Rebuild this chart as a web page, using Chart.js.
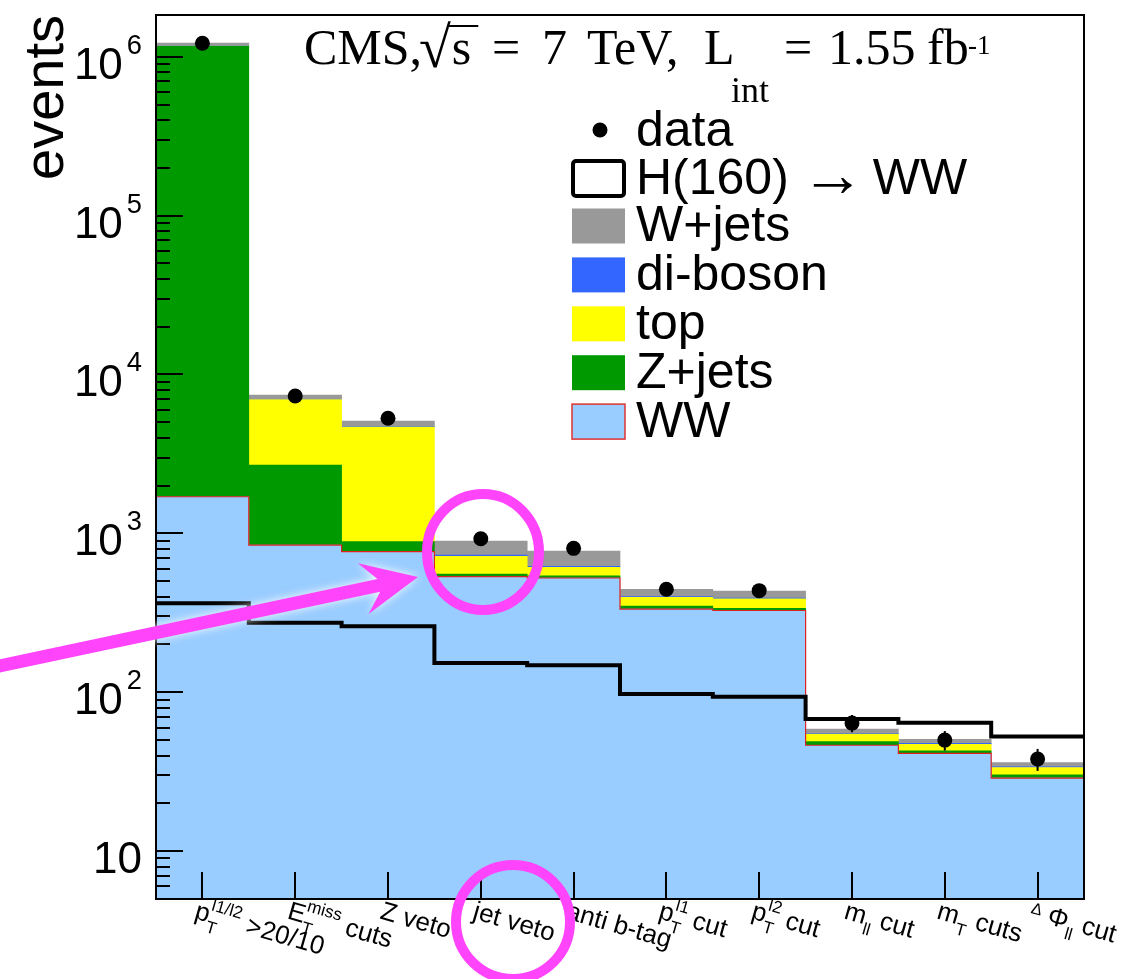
<!DOCTYPE html>
<html>
<head>
<meta charset="utf-8">
<script src="https://cdn.jsdelivr.net/npm/chart.js@4.4.1/dist/chart.umd.min.js"></script>
<style>
  html, body { margin: 0; padding: 0; background: #ffffff; }
  #wrap { position: relative; width: 1146px; height: 979px; }
</style>
</head>
<body>
<div id="wrap"><canvas id="cutflow" width="1146" height="979"></canvas></div>
<script>
// Selection steps (ROOT-like markup: _{sub}, ^{sup})
const categories = [
  'p_{T}^{l1/l2} >20/10', 'E_{T}^{miss} cuts', 'Z veto', 'jet veto', 'anti b-tag',
  'p_{T}^{l1} cut', 'p_{T}^{l2} cut', 'm_{ll} cut', 'm_{T} cuts', 'Δ Φ_{ll} cut'
];

// Expected background yields per selection step (stacked bottom to top)
const wwEvents      = [1700, 843, 767, 534, 524, 334, 327, 46.4, 41.3, 28.8];
const zjetsEvents   = [1160000, 1850, 120, 21, 16, 15, 11, 2.5, 1.5, 1.4];
const topEvents     = [6000, 4250, 3783, 163, 72, 47, 49, 5.6, 4.3, 3.4];
const dibosonEvents = [3000, 40, 30, 13, 8, 4, 4, 0.7, 0.7, 0.3];
const wjetsEvents   = [47000, 450, 396, 165, 154, 44, 42, 3.5, 2.8, 2.2];

// Observed events and their statistical uncertainties
const dataEvents = [1214000, 7320, 5300, 926, 805, 445, 436, 64, 50, 38];
const dataErrors = [1100, 86, 73, 30, 28, 21, 21, 8, 7, 6];

// Signal expectation, H(160) -> WW (drawn unstacked)
const higgsEvents = [363, 274, 260, 153, 148, 97.5, 93.8, 68, 64.4, 52.6];

// Vertical axis
const yTickValues = [10, 100, 1000, 10000, 100000, 1000000];
const yTickLabels = ['10', '10^{2}', '10^{3}', '10^{4}', '10^{5}', '10^{6}'];
const Y_MIN = 5;
const Y_MAX = 1.83e6;

// Header pieces: text, left edge, role
const headerRuns = [
  ['CMS,', 304, 'main'], ['√s', 419, 'root'], ['=', 492, 'main'], ['7', 542, 'main'],
  ['TeV,', 587, 'main'], ['L', 704, 'main'], ['int', 731, 'sub'], ['=', 784, 'main'],
  ['1.55', 828, 'main'], ['fb', 927, 'main'], ['-1', 968, 'sup']
];

const FONT_SANS = '"Liberation Sans", Arial, Helvetica, sans-serif';
const FONT_SERIF = '"Liberation Serif", "Times New Roman", Times, serif';

const layers = [
  { label: 'WW',       values: wwEvents,      color: '#99ccff' },
  { label: 'Z+jets',   values: zjetsEvents,   color: '#009900' },
  { label: 'top',      values: topEvents,     color: '#ffff00' },
  { label: 'di-boson', values: dibosonEvents, color: '#3366ff' },
  { label: 'W+jets',   values: wjetsEvents,   color: '#999999' }
];

// Floating bars [base, top] for each layer of the stack
const cumulative = categories.map(() => 0);
const barDatasets = layers.map(layer => {
  const data = layer.values.map((v, i) => {
    const lo = cumulative[i];
    const hi = lo + v;
    cumulative[i] = hi;
    return [Math.max(lo, Y_MIN), hi];
  });
  return {
    type: 'bar',
    label: layer.label,
    data,
    backgroundColor: layer.color,
    borderWidth: 0,
    grouped: false,
    barPercentage: 1,
    categoryPercentage: 1,
    order: 3
  };
});

// Step outlines use bin edges on a linear companion axis
const toEdges = arr => arr.map((v, i) => ({ x: i, y: v })).concat([{ x: arr.length, y: arr[arr.length - 1] }]);

// ---------- rich text helpers ----------
function parseRich(s) {
  const out = [];
  let buf = '';
  let i = 0;
  while (i < s.length) {
    const c = s[i];
    if ((c === '_' || c === '^') && s[i + 1] === '{') {
      const end = s.indexOf('}', i);
      const content = s.slice(i + 2, end);
      if (buf) { out.push({ t: buf }); buf = ''; }
      const last = out[out.length - 1];
      if (last && last.script && last[c] === undefined) last[c] = content;
      else out.push({ script: true, [c]: content });
      i = end + 1;
    } else { buf += c; i++; }
  }
  if (buf) out.push({ t: buf });
  return out;
}

function plainRun(ctx, text, o, at) {
  // the delta glyph is set small and raised
  const parts = text.split(/(Δ)/).filter(p => p !== '');
  let cx = 0;
  for (const p of parts) {
    if (p === 'Δ') {
      ctx.font = `${o.size * 0.62}px ${o.family}`;
      const w = ctx.measureText(p).width;
      if (at) ctx.fillText(p, at.x + cx, at.y - o.size * 0.22);
      cx += w;
    } else {
      ctx.font = `${o.size}px ${o.family}`;
      const w = ctx.measureText(p).width;
      if (at) ctx.fillText(p, at.x + cx, at.y);
      cx += w;
    }
  }
  return cx;
}

function layoutRich(ctx, tokens, o, at) {
  let cx = 0;
  const supScale = o.supScale || o.scriptScale;
  const subScale = o.subScale || o.scriptScale;
  for (const tk of tokens) {
    if (tk.t !== undefined) {
      cx += plainRun(ctx, tk.t, o, at ? { x: at.x + cx, y: at.y } : null);
    } else {
      let w = 0;
      if (tk['^'] !== undefined) {
        ctx.font = `${o.size * supScale}px ${o.family}`;
        const sh = o.supShift || 0;
        const ww = ctx.measureText(tk['^']).width;
        if (at) ctx.fillText(tk['^'], at.x + cx + sh, at.y - o.size * o.supRise);
        w = Math.max(w, ww + sh);
      }
      if (tk['_'] !== undefined) {
        ctx.font = `${o.size * subScale}px ${o.family}`;
        const sh = o.subShift || 0;
        const ww = ctx.measureText(tk['_']).width;
        if (at) ctx.fillText(tk['_'], at.x + cx + sh, at.y + o.size * o.subDrop);
        w = Math.max(w, ww + sh);
      }
      cx += w + (o.scriptGap || 0);
    }
  }
  return cx;
}

function drawRich(ctx, s, x, y, o) {
  const tokens = parseRich(s);
  const w = layoutRich(ctx, tokens, o, null);
  const sx = o.align === 'right' ? x - w : x;
  layoutRich(ctx, tokens, o, { x: sx, y });
  return w;
}

function drawHeader(ctx) {
  const base = 64;
  ctx.save();
  ctx.fillStyle = '#000';
  ctx.strokeStyle = '#000';
  headerRuns.forEach(([t, x, role]) => {
    if (role === 'sub') {
      ctx.font = `36px ${FONT_SERIF}`;
      ctx.fillText(t, x, base + 38);
    } else if (role === 'sup') {
      ctx.font = `27px ${FONT_SERIF}`;
      ctx.fillText(t, x, base - 10);
    } else if (role === 'root') {
      // enlarged radical sign with a bar over its argument
      ctx.font = `58px ${FONT_SERIF}`;
      const wr = ctx.measureText('√').width;
      ctx.fillText('√', x, base + 3);
      ctx.font = `50px ${FONT_SERIF}`;
      const wc = ctx.measureText(t.slice(1)).width;
      ctx.fillText(t.slice(1), x + wr + 1, base);
      ctx.lineWidth = 2;
      ctx.beginPath();
      ctx.moveTo(x + wr - 2, base - 38);
      ctx.lineTo(x + wr + wc + 8, base - 38);
      ctx.stroke();
    } else {
      ctx.font = `50px ${FONT_SERIF}`;
      ctx.fillText(t, x, base);
    }
  });
  ctx.restore();
}

// ---------- frame, ticks, labels, legend, markup ----------
const decorations = {
  id: 'decorations',
  afterDatasetsDraw(chart) {
    const { ctx, scales: { x, y } } = chart;
    // data error bars
    ctx.save();
    ctx.strokeStyle = '#000';
    ctx.lineWidth = 2;
    dataEvents.forEach((v, i) => {
      const px = x.getPixelForValue(i);
      ctx.beginPath();
      ctx.moveTo(px, y.getPixelForValue(v - dataErrors[i]));
      ctx.lineTo(px, y.getPixelForValue(v + dataErrors[i]));
      ctx.stroke();
    });
    ctx.restore();
  },
  afterDraw(chart) {
    const { ctx, chartArea: a, scales: { x, y } } = chart;
    ctx.save();
    ctx.fillStyle = '#000';
    ctx.strokeStyle = '#000';
    ctx.textBaseline = 'alphabetic';

    // y ticks (major + minor), drawn inward
    ctx.lineWidth = 2;
    for (let e = 0; e <= 6; e++) {
      for (let m = 1; m <= 9; m++) {
        const v = m * Math.pow(10, e);
        if (v <= Y_MIN || v > Y_MAX) continue;
        const py = Math.round(y.getPixelForValue(v));
        ctx.beginPath();
        ctx.moveTo(a.left, py);
        ctx.lineTo(a.left + (m === 1 ? 27 : 14), py);
        ctx.stroke();
      }
    }
    // x ticks at bin centres
    categories.forEach((c, i) => {
      const px = Math.round(x.getPixelForValue(i));
      ctx.beginPath();
      ctx.moveTo(px, a.bottom);
      ctx.lineTo(px, a.bottom - 27);
      ctx.stroke();
    });
    // frame
    ctx.lineWidth = 2;
    ctx.strokeRect(a.left, a.top, a.right - a.left, a.bottom - a.top);

    // y tick labels
    yTickValues.forEach((v, i) => {
      const py = y.getPixelForValue(v);
      drawRich(ctx, yTickLabels[i], 142, py + 22, {
        size: 44, family: FONT_SANS, supScale: 0.62, supRise: 0.57, supShift: 4, align: 'right'
      });
    });

    // y title
    ctx.save();
    ctx.translate(63, a.top);
    ctx.rotate(-Math.PI / 2);
    ctx.font = `56px ${FONT_SANS}`;
    ctx.textAlign = 'right';
    ctx.fillText('events', 0, 0);
    ctx.restore();

    // x category labels, slanted
    const ang = 16 * Math.PI / 180;
    categories.forEach((c, i) => {
      const px = x.getPixelForValue(i);
      ctx.save();
      ctx.translate(px - 4, a.bottom + 2);
      ctx.rotate(ang);
      drawRich(ctx, c, 0, 18, {
        size: 26, family: FONT_SANS, scriptScale: 0.66, supRise: 0.48, subDrop: 0.38
      });
      ctx.restore();
    });

    // header
    drawHeader(ctx);

    // legend
    const lx = 572, lw = 53, lh = 35, tx = 636;
    const legendFont = `50px ${FONT_SANS}`;
    ctx.font = legendFont;
    ctx.textAlign = 'left';
    // data
    ctx.beginPath();
    ctx.arc(600, 130, 7.5, 0, Math.PI * 2);
    ctx.fill();
    ctx.fillText('data', tx, 146);
    // signal
    ctx.save();
    ctx.lineWidth = 4;
    ctx.beginPath();
    ctx.roundRect(lx + 1, 161, lw - 2, lh, 3);
    ctx.fillStyle = '#fff';
    ctx.fill();
    ctx.stroke();
    ctx.restore();
    ctx.font = legendFont;
    const hPart = 'H(160)';
    ctx.fillText(hPart, tx, 194);
    const hw0 = ctx.measureText(hPart).width;
    ctx.font = `64px ${FONT_SANS}`;
    ctx.fillText('→', tx + hw0 + 12, 196);
    const aw = ctx.measureText('→').width;
    ctx.font = legendFont;
    ctx.fillText('WW', tx + hw0 + 12 + aw + 8, 194);
    // backgrounds, top of stack first
    const legendOrder = layers.slice().reverse();
    legendOrder.forEach((layer, k) => {
      const cy = 226 + k * 48.9;
      ctx.fillStyle = layer.color;
      ctx.fillRect(lx, cy - lh / 2, lw, lh);
      if (layer.label === 'WW') {
        ctx.strokeStyle = '#dd3333';
        ctx.lineWidth = 1.5;
        ctx.strokeRect(lx, cy - lh / 2, lw, lh);
      }
      ctx.fillStyle = '#000';
      ctx.fillText(layer.label, tx, cy + 15);
    });

    // highlight marks
    const pink = '#ff44fb';
    ctx.strokeStyle = pink;
    ctx.fillStyle = pink;
    ctx.lineWidth = 10;
    ctx.beginPath();
    ctx.ellipse(483, 552, 56, 58, 0, 0, Math.PI * 2);
    ctx.stroke();
    ctx.beginPath();
    ctx.arc(513, 922, 57, 0, Math.PI * 2);
    ctx.stroke();

    // arrow with a soft halo
    const tip = { x: 418, y: 577 };
    const start = { x: -10, y: 668 };
    const dx = tip.x - start.x, dy = tip.y - start.y;
    const L = Math.hypot(dx, dy);
    const u = { x: dx / L, y: dy / L };
    const n = { x: -u.y, y: u.x };
    const hw = 6.5;
    const notch = { x: tip.x - 40 * u.x, y: tip.y - 40 * u.y };
    const back = { x: tip.x - 56 * u.x, y: tip.y - 56 * u.y };
    ctx.save();
    ctx.shadowColor = 'rgba(255,255,255,0.95)';
    ctx.shadowBlur = 10;
    ctx.beginPath();
    ctx.moveTo(start.x + n.x * hw, start.y + n.y * hw);
    ctx.lineTo(notch.x + n.x * hw, notch.y + n.y * hw);
    ctx.lineTo(back.x + n.x * 26, back.y + n.y * 26);
    ctx.lineTo(tip.x, tip.y);
    ctx.lineTo(back.x - n.x * 26, back.y - n.y * 26);
    ctx.lineTo(notch.x - n.x * hw, notch.y - n.y * hw);
    ctx.lineTo(start.x - n.x * hw, start.y - n.y * hw);
    ctx.closePath();
    ctx.fill();
    ctx.restore();

    ctx.restore();
  }
};

new Chart(document.getElementById('cutflow'), {
  data: {
    labels: categories,
    datasets: [
      {
        type: 'line',
        label: 'data',
        data: dataEvents,
        showLine: false,
        pointRadius: 7.5,
        pointBackgroundColor: '#000',
        pointBorderWidth: 0,
        order: 0
      },
      {
        type: 'line',
        label: 'H(160) → WW',
        xAxisID: 'xe',
        data: toEdges(higgsEvents),
        stepped: true,
        borderColor: '#000',
        borderWidth: 4,
        pointRadius: 0,
        fill: false,
        order: 1
      },
      {
        type: 'line',
        label: 'WW outline',
        xAxisID: 'xe',
        data: toEdges(wwEvents),
        stepped: true,
        borderColor: '#dd2222',
        borderWidth: 1.2,
        pointRadius: 0,
        fill: false,
        order: 2
      },
      ...barDatasets
    ]
  },
  options: {
    responsive: false,
    animation: false,
    devicePixelRatio: 1,
    layout: { padding: { left: 156, right: 62, top: 15, bottom: 80 } },
    plugins: { legend: { display: false }, tooltip: { enabled: false } },
    scales: {
      x: { type: 'category', display: false, offset: true },
      xe: { type: 'linear', display: false, min: 0, max: categories.length, offset: false },
      y: { type: 'logarithmic', display: false, min: Y_MIN, max: Y_MAX }
    }
  },
  plugins: [decorations]
});
</script>
</body>
</html>
